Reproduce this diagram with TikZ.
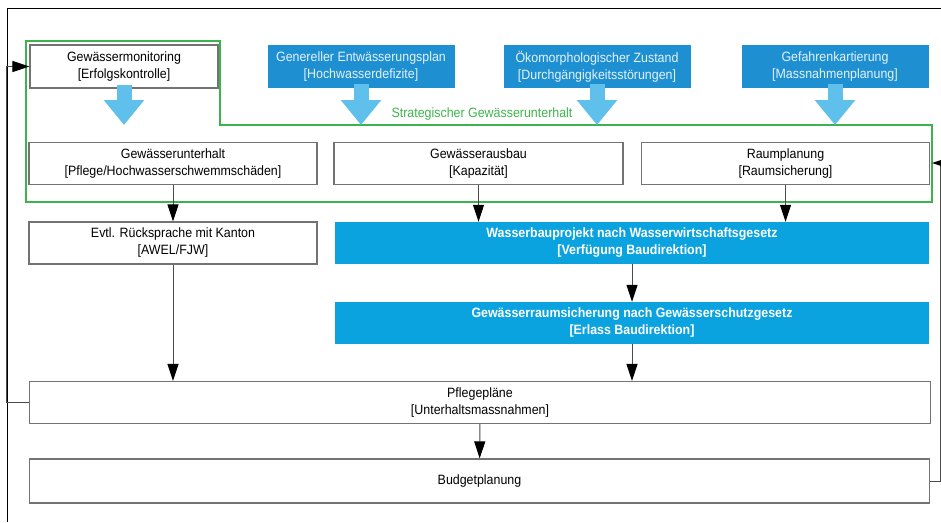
\documentclass[tikz,border=0pt]{standalone}
\usepackage{fontspec}
\setmainfont{Liberation Sans}[FakeStretch=0.92]
\usetikzlibrary{arrows.meta,positioning}

\definecolor{topblue}{RGB}{30,144,210}
\definecolor{projblue}{RGB}{10,163,224}
\definecolor{arrowblue}{RGB}{95,192,236}
\definecolor{strategreen}{RGB}{60,180,75}
\definecolor{boxgray}{RGB}{115,115,115}
\definecolor{linegray}{RGB}{75,75,75}

\newcommand{\boxfont}{\fontsize{13.5}{17}\selectfont}

\tikzset{
    whitebox/.style={draw=boxgray, line width=1.2pt, fill=white, minimum height=42pt, inner sep=0pt, align=center},
    topbox/.style={fill=topblue, text=white!88!topblue, minimum width=187pt, minimum height=43pt, inner sep=0pt, align=center},
    projbox/.style={fill=projblue, text=white, font=\boxfont\bfseries, minimum width=594pt, minimum height=42pt, inner sep=0pt, align=center},
    flow/.style={draw=linegray, line width=1pt, -{Triangle[length=17pt,width=11pt,black]}},
    fatarrow/.style={draw=arrowblue, line width=15pt, -{Triangle[length=25pt,width=39pt]}},
}

\begin{document}
\begin{tikzpicture}[x=1pt, y=-1pt, font=\boxfont]
    \useasboundingbox (0,0) rectangle (941,522);

    % Frame of the figure
    \draw[black, line width=1pt] (7,522) -- (7,8) -- (941,8);

    % Strategic maintenance area
    \draw[strategreen, line width=2.5pt] (26,41) -- (220,41) -- (220,125) -- (932,125) -- (932,202) -- (26,202) -- cycle;
    \node[text=strategreen] (strat) at (482,114) {Strategischer Gewässerunterhalt};
    \coordinate (gtop) at (0,125);
    \coordinate (gright) at (932,163);
    \coordinate (redge) at (940,0);

    % Top row
    \node[whitebox, minimum width=188pt, minimum height=43pt] (mon) at (124,66.5) {Gewässermonitoring\\{}[Erfolgskontrolle]};
    \node[topbox] (gep) at (361,66.5) {Genereller Entwässerungsplan\\{}[Hochwasserdefizite]};
    \node[topbox] (oeko) at (597,66.5) {Ökomorphologischer Zustand\\{}[Durchgängigkeitsstörungen]};
    \node[topbox] (gefahr) at (835,66.5) {Gefahrenkartierung\\{}[Massnahmenplanung]};

    % Inputs into the strategic area
    \draw[fatarrow] ([yshift=4pt]mon.south) -- (mon.south |- gtop);
    \draw[fatarrow] ([yshift=4pt]gep.south) -- (gep.south |- gtop);
    \draw[fatarrow] ([yshift=4pt]oeko.south) -- (oeko.south |- gtop);
    \draw[fatarrow] ([yshift=4pt]gefahr.south) -- (gefahr.south |- gtop);

    % Second row
    \node[whitebox, minimum width=288pt] (unterhalt) at (173,163.5) {Gewässerunterhalt\\{}[Pflege/Hochwasserschwemmschäden]};
    \node[whitebox, minimum width=289pt] (ausbau) at (478.5,163.5) {Gewässerausbau\\{}[Kapazität]};
    \node[whitebox, minimum width=288pt] (raum) at (785.5,163.5) {Raumplanung\\{}[Raumsicherung]};

    % Procedures
    \node[whitebox, minimum width=288pt] (kanton) at (173,243) {Evtl. Rücksprache mit Kanton\\{}[AWEL/FJW]};
    \node[projbox] (wbprojekt) at (632,243) {Wasserbauprojekt nach Wasserwirtschaftsgesetz\\{}[Verfügung Baudirektion]};
    \node[projbox] (gwraum) at (632,323) {Gewässerraumsicherung nach Gewässerschutzgesetz\\{}[Erlass Baudirektion]};

    % Bottom rows
    \node[whitebox, minimum width=901pt] (pflege) at (480,402.5) {Pflegepläne\\{}[Unterhaltsmassnahmen]};
    \node[whitebox, minimum width=900pt, minimum height=44pt] (budget) at (479.5,481) {Budgetplanung};

    % Draw connections
    \draw[flow] (unterhalt) -- (kanton);
    \draw[flow] (ausbau.south) -- (ausbau.south |- wbprojekt.north);
    \draw[flow] (raum.south) -- (raum.south |- wbprojekt.north);
    \draw[flow] (wbprojekt) -- (gwraum);
    \draw[flow] (kanton.south) -- (kanton.south |- pflege.north);
    \draw[flow] (gwraum.south) -- (gwraum.south |- pflege.north);
    \draw[flow] (pflege) -- (budget);

    % Feedback loops
    \draw[flow] (pflege.west) -- ++(-22.5,0) |- (mon.west);
    \draw[flow] (budget.east) -- (budget.east -| redge) |- (gright);

\end{tikzpicture}
\end{document}
